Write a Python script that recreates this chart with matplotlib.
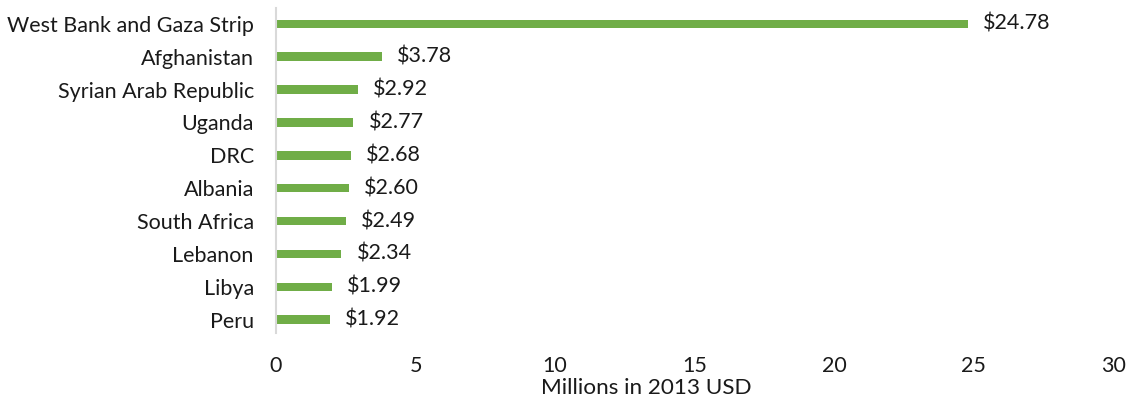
import matplotlib.pyplot as plt

countries = ["West Bank and Gaza Strip", "Afghanistan", "Syrian Arab Republic",
             "Uganda", "DRC", "Albania", "South Africa", "Lebanon", "Libya", "Peru"]
values = [24.78, 3.78, 2.92, 2.77, 2.68, 2.60, 2.49, 2.34, 1.99, 1.92]
xticks = [0, 5, 10, 15, 20, 25, 30]

plt.rcParams['font.family'] = ['Lato', 'DejaVu Sans']
FS = 15.5
TXT = "#1a1a1a"

fig = plt.figure(figsize=(11.36, 4.01), dpi=100)
ax = fig.add_axes([0.243, 0.170, 0.737, 0.810])

# reverse so first country ends up on top
pos = list(range(len(countries)))[::-1]
ax.barh(pos, values, height=0.26, color="#70AD47")

for p, v in zip(pos, values):
    ax.text(v + 0.55, p, "${:.2f}".format(v), va="center", ha="left",
            fontsize=FS, color=TXT)

ax.set_yticks(pos)
ax.set_yticklabels(countries, fontsize=FS, color=TXT)
ax.set_xticks(xticks)
ax.set_xticklabels([str(t) for t in xticks], fontsize=FS, color=TXT)
ax.set_xlim(0, 30)
ax.set_ylim(-0.4, 9.48)
ax.tick_params(axis="both", length=0)
ax.tick_params(axis="y", pad=16)
ax.tick_params(axis="x", pad=17)
ax.set_xlabel("Millions in 2013 USD", fontsize=16.2, color=TXT)
ax.xaxis.set_label_coords(0.442, -0.14)

for s in ["top", "right", "bottom"]:
    ax.spines[s].set_visible(False)
ax.spines["left"].set_color("#D9D9D9")
ax.spines["left"].set_linewidth(1.5)

fig.savefig("out.png", dpi=100)
